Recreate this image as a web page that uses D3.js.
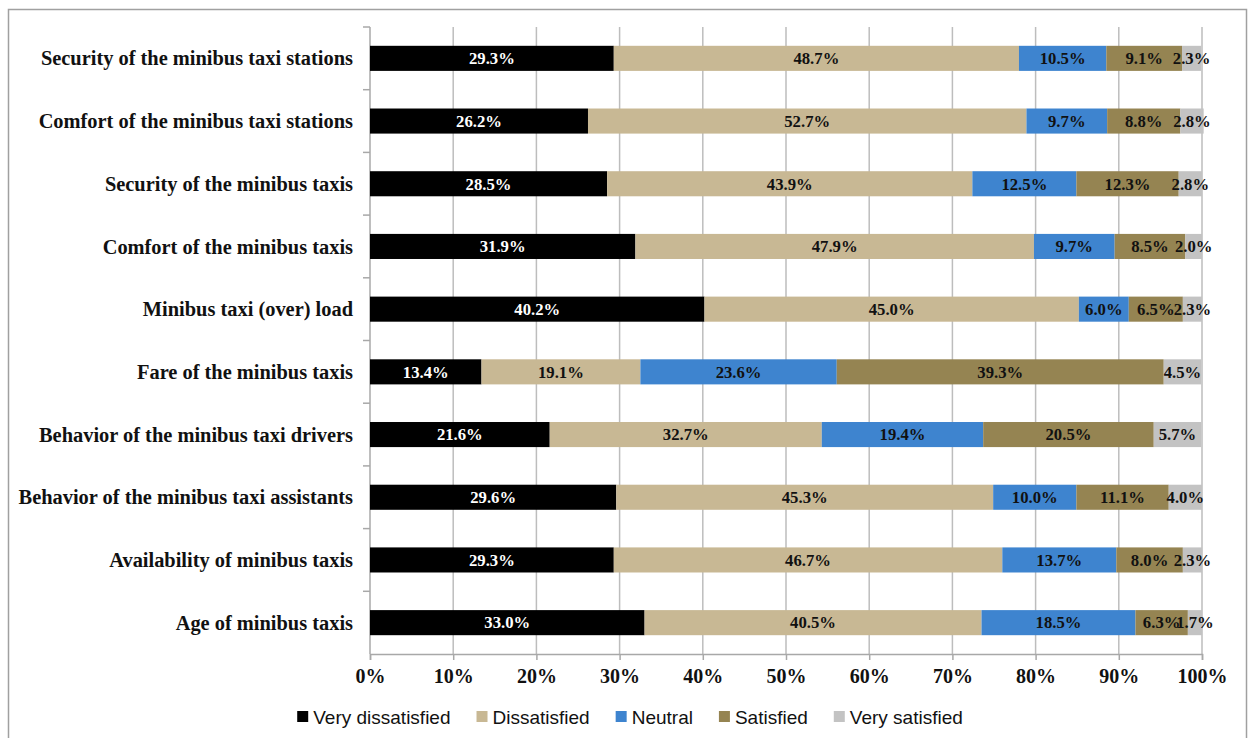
<!DOCTYPE html>
<html>
<head>
<meta charset="utf-8">
<script src="https://cdn.jsdelivr.net/npm/d3@7"></script>
<style>
  html, body { margin: 0; padding: 0; background: #fff; }
  svg { display: block; }
</style>
</head>
<body>
<svg id="chart" width="1250" height="738"></svg>
<script>
// Satisfaction survey: share of respondents per rating, for each minibus taxi aspect
const categories = [
  "Security of the minibus taxi stations",
  "Comfort of the minibus taxi stations",
  "Security of the minibus taxis",
  "Comfort of the minibus taxis",
  "Minibus taxi (over) load",
  "Fare of the minibus taxis",
  "Behavior of the minibus taxi drivers",
  "Behavior of the minibus taxi assistants",
  "Availability of minibus taxis",
  "Age of minibus taxis"
];
const seriesNames = ["Very dissatisfied", "Dissatisfied", "Neutral", "Satisfied", "Very satisfied"];
const veryDissatisfied = [29.3, 26.2, 28.5, 31.9, 40.2, 13.4, 21.6, 29.6, 29.3, 33.0];
const dissatisfied     = [48.7, 52.7, 43.9, 47.9, 45.0, 19.1, 32.7, 45.3, 46.7, 40.5];
const neutral          = [10.5,  9.7, 12.5,  9.7,  6.0, 23.6, 19.4, 10.0, 13.7, 18.5];
const satisfied        = [ 9.1,  8.8, 12.3,  8.5,  6.5, 39.3, 20.5, 11.1,  8.0,  6.3];
const verySatisfied    = [ 2.3,  2.8,  2.8,  2.0,  2.3,  4.5,  5.7,  4.0,  2.3,  1.7];
const xTicks = [0, 10, 20, 30, 40, 50, 60, 70, 80, 90, 100];

const colors = ["#000000", "#c8b894", "#3e84cf", "#958452", "#c3c3c3"];
const labelColors = ["#ffffff", "#111111", "#111111", "#111111", "#111111"];

const rows = categories.map((c, i) => ({
  category: c,
  "Very dissatisfied": veryDissatisfied[i],
  "Dissatisfied": dissatisfied[i],
  "Neutral": neutral[i],
  "Satisfied": satisfied[i],
  "Very satisfied": verySatisfied[i]
}));
const stacked = d3.stack().keys(seriesNames)(rows);

const svg = d3.select("#chart");

// frame around the whole figure
svg.append("rect")
  .attr("x", 8.5).attr("y", 9.5)
  .attr("width", 1238).attr("height", 740)
  .attr("fill", "none").attr("stroke", "#a0a0a0").attr("stroke-width", 1.5);

const plot = { left: 370, right: 1202, top: 27, bottom: 654 };

const x = d3.scaleLinear().domain([0, 100]).range([plot.left, plot.right]);
const y = d3.scaleBand().domain(categories).range([plot.top, plot.bottom]).paddingInner(0.6).paddingOuter(0.3);
const yOuter = d3.scaleBand().domain(categories).range([plot.top, plot.bottom]);

const serif = "'Liberation Serif', 'Times New Roman', serif";

// vertical gridlines
svg.append("g")
  .selectAll("line")
  .data(xTicks.slice(1))
  .join("line")
  .attr("x1", d => x(d)).attr("x2", d => x(d))
  .attr("y1", plot.top).attr("y2", plot.bottom)
  .attr("stroke", "#bdbdbd").attr("stroke-width", 1.5);

// x axis
const xAxis = svg.append("g")
  .attr("transform", `translate(0,${plot.bottom})`)
  .call(d3.axisBottom(x).tickValues(xTicks).tickFormat(d => d + "%").tickSize(6).tickPadding(9));
xAxis.select(".domain").attr("stroke", "#a8a8a8").attr("stroke-width", 1.5);
xAxis.selectAll(".tick line").attr("stroke", "#a8a8a8").attr("stroke-width", 1.5);
xAxis.selectAll(".tick text")
  .attr("font-family", serif).attr("font-weight", "bold").attr("font-size", 20).attr("fill", "#111");

// y axis: ticks sit at the category band boundaries
const yAxisG = svg.append("g").attr("transform", `translate(${plot.left},0)`);
yAxisG.append("line")
  .attr("x1", 0).attr("x2", 0).attr("y1", plot.top).attr("y2", plot.bottom)
  .attr("stroke", "#a8a8a8").attr("stroke-width", 1.5);
yAxisG.selectAll("line.tk")
  .data(categories)
  .join("line").attr("class", "tk")
  .attr("x1", -7).attr("x2", 0)
  .attr("y1", d => yOuter(d)).attr("y2", d => yOuter(d))
  .attr("stroke", "#a8a8a8").attr("stroke-width", 1.5);
yAxisG.selectAll("text")
  .data(categories)
  .join("text")
  .attr("x", -17)
  .attr("y", d => yOuter(d) + yOuter.bandwidth() / 2)
  .attr("dy", "0.35em")
  .attr("text-anchor", "end")
  .attr("font-family", serif).attr("font-weight", "bold").attr("font-size", 20.4).attr("fill", "#111")
  .text(d => d);

// stacked bars
const layers = svg.append("g")
  .selectAll("g")
  .data(stacked)
  .join("g")
  .attr("fill", (d, i) => colors[i]);

layers.selectAll("rect")
  .data(d => d.map(s => ({ s, cat: s.data.category })))
  .join("rect")
  .attr("x", d => x(d.s[0]))
  .attr("width", d => x(d.s[1]) - x(d.s[0]))
  .attr("y", d => y(d.cat))
  .attr("height", y.bandwidth());

// value labels centred in each segment
const labels = svg.append("g");
stacked.forEach((layer, i) => {
  labels.selectAll(null)
    .data(layer)
    .join("text")
    .attr("x", s => x((s[0] + s[1]) / 2))
    .attr("y", s => y(s.data.category) + y.bandwidth() / 2)
    .attr("dy", "0.35em")
    .attr("text-anchor", "middle")
    .attr("font-family", serif).attr("font-weight", "bold").attr("font-size", 16.7)
    .attr("fill", labelColors[i])
    .text(s => (s[1] - s[0]).toFixed(1) + "%");
});

// legend
const legend = svg.append("g").attr("transform", "translate(0,717)");
const items = legend.selectAll("g")
  .data(seriesNames)
  .join("g");
items.append("rect")
  .attr("width", 11).attr("height", 11).attr("y", -6)
  .attr("fill", (d, i) => colors[i]);
items.append("text")
  .attr("x", 16).attr("dy", "0.35em")
  .attr("font-family", "'Liberation Sans', Arial, sans-serif")
  .attr("font-size", 19).attr("fill", "#111")
  .text(d => d);
let cursor = 0;
const gap = 26;
const offsets = [];
items.each(function () {
  offsets.push(cursor);
  cursor += this.getBBox().width + gap;
});
const total = cursor - gap;
const startX = 630 - total / 2;
items.attr("transform", (d, i) => `translate(${startX + offsets[i]},0)`);
</script>
</body>
</html>
